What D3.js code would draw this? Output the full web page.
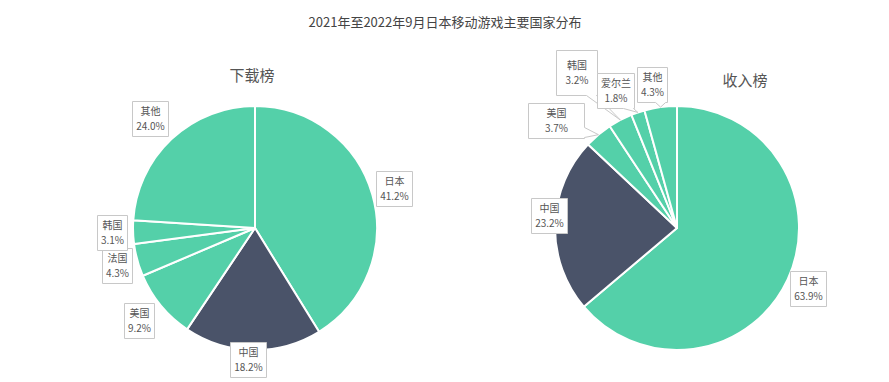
<!DOCTYPE html>
<html><head><meta charset="utf-8">
<script src="https://cdn.jsdelivr.net/npm/d3@7"></script>
<style>
html,body{margin:0;padding:0;background:#fff;}
svg{display:block;font-family:"Microsoft YaHei","Noto Sans CJK SC",sans-serif;}
</style></head>
<body>
<svg id="chart" width="889" height="382"></svg>
<script>
// ---- data ----
const mainTitle = "2021年至2022年9月日本移动游戏主要国家分布";
const chartTitles = ["下载榜", "收入榜"];
const downloadCountries = ["日本", "中国", "美国", "法国", "韩国", "其他"];
const downloadShares = [41.2, 18.2, 9.2, 4.3, 3.1, 24.0];
const revenueCountries = ["日本", "中国", "美国", "韩国", "爱尔兰", "其他"];
const revenueShares = [63.9, 23.2, 3.7, 3.2, 1.8, 4.3];

// ---- layout (label placement: angle shift in degrees, distance from centre, optional box size, callout) ----
const downloadLabelLayout = [
  {dA: 0, R: 145}, {dA: 2, R: 132}, {dA: 1, R: 148},
  {dA: 0, R: 143}, {dA: 0, R: 143}, {dA: -0.5, R: 152}
];
const revenueLabelLayout = [
  {dA: 0, R: 144}, {dA: 4, R: 129},
  {dA: -8.4, R: 162, w: 56, callout: true},
  {dA: -5.3, R: 185, w: 41, h: 45, callout: true},
  {dA: -5.4, R: 151, callout: true},
  {dA: -2, R: 146, callout: true}
];

const W = 889, H = 382;
const green = "#54d0a9", dark = "#4a5369";
const svg = d3.select("#chart");

svg.append("text").attr("x", 445).attr("y", 27).attr("text-anchor", "middle")
  .attr("font-size", 13).attr("fill", "#444").text(mainTitle);

function calloutPath(x0, y0, w, h, tx, ty) {
  const x1 = x0 + w, y1 = y0 + h, b = 5;
  const ex = tx < x0 ? x0 - tx : tx > x1 ? tx - x1 : 0;
  const ey = ty < y0 ? y0 - ty : ty > y1 ? ty - y1 : 0;
  const cl = (v, a, c) => Math.max(a, Math.min(c, v));
  if (ex === 0 && ey === 0) return `M${x0},${y0}H${x1}V${y1}H${x0}Z`;
  if (ey >= ex) {
    const bx = cl(tx, x0 + b + 1, x1 - b - 1);
    if (ty > y1) return `M${x0},${y0}H${x1}V${y1}H${bx + b}L${tx},${ty}L${bx - b},${y1}H${x0}Z`;
    return `M${x0},${y0}H${bx - b}L${tx},${ty}L${bx + b},${y0}H${x1}V${y1}H${x0}Z`;
  } else {
    const by = cl(ty, y0 + b + 1, y1 - b - 1);
    if (tx > x1) return `M${x0},${y0}H${x1}V${by - b}L${tx},${ty}L${x1},${by + b}V${y1}H${x0}Z`;
    return `M${x0},${y0}H${x1}V${y1}H${x0}V${by + b}L${tx},${ty}L${x0},${by - b}Z`;
  }
}

function drawPie(cx, cy, r, names, values, title, titleX, titleY, layout) {
  const g = svg.append("g");
  g.append("text").attr("x", titleX).attr("y", titleY).attr("text-anchor", "middle")
    .attr("font-size", 15).attr("fill", "#555").text(title);

  const data = names.map((n, i) => ({name: n, value: values[i], lay: layout[i]}));
  const pie = d3.pie().sort(null).value(d => d.value);
  const arcs = pie(data);
  const arc = d3.arc().innerRadius(0).outerRadius(r);
  const pg = g.append("g").attr("transform", `translate(${cx},${cy})`);
  pg.selectAll("path").data(arcs).join("path")
    .attr("d", arc)
    .attr("fill", d => d.data.name === "中国" ? dark : green)
    .attr("stroke", "#fff").attr("stroke-width", 2).attr("stroke-linejoin", "round");

  const lg = g.append("g");
  arcs.forEach(a => {
    const lay = a.data.lay;
    const mid = (a.startAngle + a.endAngle) / 2;
    const th = mid + lay.dA * Math.PI / 180;
    let bx = cx + lay.R * Math.sin(th), by = cy - lay.R * Math.cos(th);
    const lines = [a.data.name, a.data.value.toFixed(1) + "%"];
    const grp = lg.append("g");
    const path = grp.append("path");
    const texts = lines.map(t => grp.append("text").attr("font-size", 10).attr("fill", "#555")
      .attr("text-anchor", "middle").text(t));
    const tw = d3.max(texts, t => t.node().getComputedTextLength());
    const w = lay.w || Math.round(tw + 7);
    const h = lay.h || 35;
    by = Math.max(h / 2 + 2, Math.min(H - h / 2 - 3, by));
    const x0 = Math.round(bx - w / 2) + 0.5, y0 = Math.round(by - h / 2) + 0.5;
    let d;
    if (lay.callout) {
      const tx = cx + r * Math.sin(mid), ty = cy - r * Math.cos(mid);
      d = calloutPath(x0, y0, w, h, tx, ty);
    } else {
      d = calloutPath(x0, y0, w, h, x0 + 1, y0 + 1);
    }
    path.attr("d", d).attr("fill", "#fff").attr("stroke", "#c8c8c8").attr("stroke-width", 1);
    texts[0].attr("x", x0 + w / 2).attr("y", y0 + h / 2 - 4);
    texts[1].attr("x", x0 + w / 2).attr("y", y0 + h / 2 + 11);
  });
}

drawPie(255, 228, 122, downloadCountries, downloadShares, chartTitles[0], 252, 81, downloadLabelLayout);
drawPie(677, 228, 122, revenueCountries, revenueShares, chartTitles[1], 745, 86, revenueLabelLayout);
</script>
</body></html>
